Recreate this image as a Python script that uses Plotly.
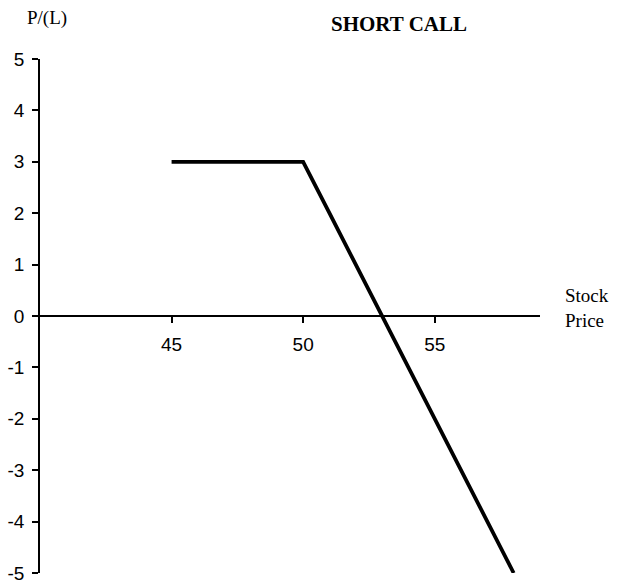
import plotly.graph_objects as go

# Short call payoff at expiry (strike 50, premium 3)
stock_price = [45, 46, 47, 48, 49, 50, 51, 52, 53, 54, 55, 56, 57, 58]
profit_loss = [3, 3, 3, 3, 3, 3, 2, 1, 0, -1, -2, -3, -4, -5]

x_ticks = [45, 50, 55]
x_tick_text = ["45", "50", "55"]
y_ticks = [-5, -4, -3, -2, -1, 0, 1, 2, 3, 4, 5]
y_tick_text = ["-5", "-4", "-3", "-2", "-1", "0", "1", "2", "3", "4", "5"]

W, H = 622, 584
L, R, T, B = 40, 82, 59, 11

fig = go.Figure(
    go.Scatter(
        x=stock_price,
        y=profit_loss,
        mode="lines",
        line=dict(color="black", width=3.8),
        hoverinfo="skip",
    )
)

tick_font = dict(family="Liberation Sans, Arial", size=19, color="black")
serif = "Liberation Serif, Times New Roman"

fig.update_layout(
    width=W,
    height=H,
    margin=dict(l=L, r=R, t=T, b=B, autoexpand=False),
    paper_bgcolor="white",
    plot_bgcolor="white",
    showlegend=False,
    xaxis=dict(
        range=[40, 59],
        anchor="free",
        position=0.5,
        showgrid=False,
        zeroline=False,
        showline=True,
        linecolor="black",
        linewidth=1.5,
        tickmode="array",
        tickvals=x_ticks,
        ticktext=x_tick_text,
        ticks="outside",
        ticklen=6,
        tickwidth=1.5,
        tickcolor="black",
        tickfont=tick_font,
        ticklabelstandoff=5,
        automargin=False,
    ),
    yaxis=dict(
        range=[-5, 5],
        showgrid=False,
        zeroline=False,
        showline=True,
        linecolor="black",
        linewidth=1.5,
        tickmode="array",
        tickvals=y_ticks,
        ticktext=y_tick_text,
        ticks="outside",
        ticklen=6,
        tickwidth=1.5,
        tickcolor="black",
        tickfont=tick_font,
        ticklabelstandoff=4,
        ticklabeloverflow="allow",
        automargin=False,
    ),
    annotations=[
        dict(
            text="<b>SHORT CALL</b>",
            x=(399 - L) / (W - L - R),
            y=1 + (T - 24) / (H - T - B),
            xref="paper",
            yref="paper",
            xanchor="center",
            yanchor="middle",
            showarrow=False,
            font=dict(family=serif, size=21, color="black"),
        ),
        dict(
            text="P/(L)",
            x=(25 - L) / (W - L - R),
            y=1 + (T - 18) / (H - T - B),
            xref="paper",
            yref="paper",
            xanchor="left",
            yanchor="middle",
            showarrow=False,
            font=dict(family=serif, size=19, color="black"),
        ),
        dict(
            text="Stock<br>Price",
            x=(563 - L) / (W - L - R),
            y=0.5 + (317 - 309) / (H - T - B),
            xref="paper",
            yref="paper",
            xanchor="left",
            yanchor="middle",
            align="left",
            showarrow=False,
            font=dict(family=serif, size=19, color="black"),
        ),
    ],
)

fig.write_html("out.html")
